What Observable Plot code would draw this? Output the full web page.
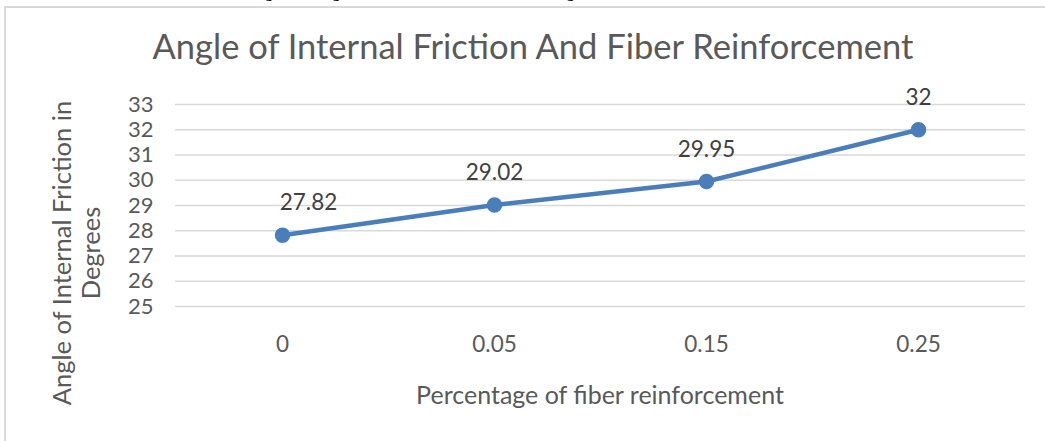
<!DOCTYPE html>
<html>
<head>
<meta charset="utf-8">
<script src="https://cdn.jsdelivr.net/npm/d3@7"></script>
<script src="https://cdn.jsdelivr.net/npm/@observablehq/plot@0.6"></script>
<style>
  html, body { margin: 0; padding: 0; background: #fff; }
  #wrap { position: relative; width: 1045px; height: 441px; overflow: hidden; font-family: Lato, sans-serif; }
  #cap { position: absolute; left: 0; top: 0; width: 1045px; height: 5px; overflow: hidden; }
  #cap div { position: absolute; left: 252px; top: -15px; white-space: nowrap; font-family: "Liberation Serif", serif; font-weight: bold; font-size: 15px; color: #000; }
  #frame { position: absolute; left: 4px; top: 6px; width: 1060px; height: 460px; border-left: 2px solid #d9d9d9; border-top: 2px solid #d9d9d9; }
  #title { position: absolute; left: 0; width: 1066px; top: 25px; text-align: center; font-size: 34.5px; color: #595959; }
  #xtitle { position: absolute; left: 0; width: 1200px; top: 379px; text-align: center; font-size: 25px; color: #595959; }
  #ytitle { position: absolute; left: 76px; top: 253px; transform: translate(-50%, -50%) rotate(-90deg); white-space: nowrap; text-align: center; font-size: 25.5px; line-height: 29px; color: #595959; }
  #chart { position: absolute; left: 0; top: 0; }
</style>
</head>
<body>
<div id="wrap">
  <div id="frame"></div>
  <div id="cap"><div>Figure 4: Angle of Internal Friction and Percentage of Fiber Reinforcement in Soil</div></div>
  <div id="title">Angle of Internal Friction And Fiber Reinforcement</div>
  <div id="ytitle">Angle of Internal Friction in<br>Degrees</div>
  <div id="xtitle">Percentage of fiber reinforcement</div>
  <div id="chart"></div>
</div>
<script>
const categories = ["0", "0.05", "0.15", "0.25"];
const values = [27.82, 29.02, 29.95, 32];
const labels = ["27.82", "29.02", "29.95", "32"];
const yTicks = [25, 26, 27, 28, 29, 30, 31, 32, 33];

const data = categories.map((c, i) => ({cat: c, val: values[i], label: labels[i]}));
const blue = "#4a7ebb";

const plot = Plot.plot({
  width: 1045,
  height: 441,
  marginTop: 104,
  marginBottom: 135,
  marginLeft: 175,
  marginRight: 20,
  style: {background: "transparent", fontFamily: "Lato, sans-serif", overflow: "visible"},
  x: {type: "point", domain: categories, padding: 0.5, label: null},
  y: {domain: [25, 33], label: null},
  marks: [
    Plot.gridY(yTicks, {stroke: "#d9d9d9", strokeOpacity: 1, strokeWidth: 1.5}),
    Plot.axisY(yTicks, {tickSize: 0, tickPadding: 22, fontSize: 22, fill: "#595959", label: null}),
    Plot.axisX({tickSize: 0, tickPadding: 30, fontSize: 22.5, fill: "#595959", label: null}),
    Plot.line(data, {x: "cat", y: "val", stroke: blue, strokeWidth: 4.5}),
    Plot.dot(data, {x: "cat", y: "val", r: 7, fill: blue, stroke: blue}),
    Plot.text(data.slice(0, 1), {x: "cat", y: "val", text: "label", dy: -32, dx: 26, fontSize: 22.5, fill: "#404040"}),
    Plot.text(data.slice(1), {x: "cat", y: "val", text: "label", dy: -32, fontSize: 22.5, fill: "#404040"})
  ]
});
document.getElementById("chart").appendChild(plot);
</script>
</body>
</html>
